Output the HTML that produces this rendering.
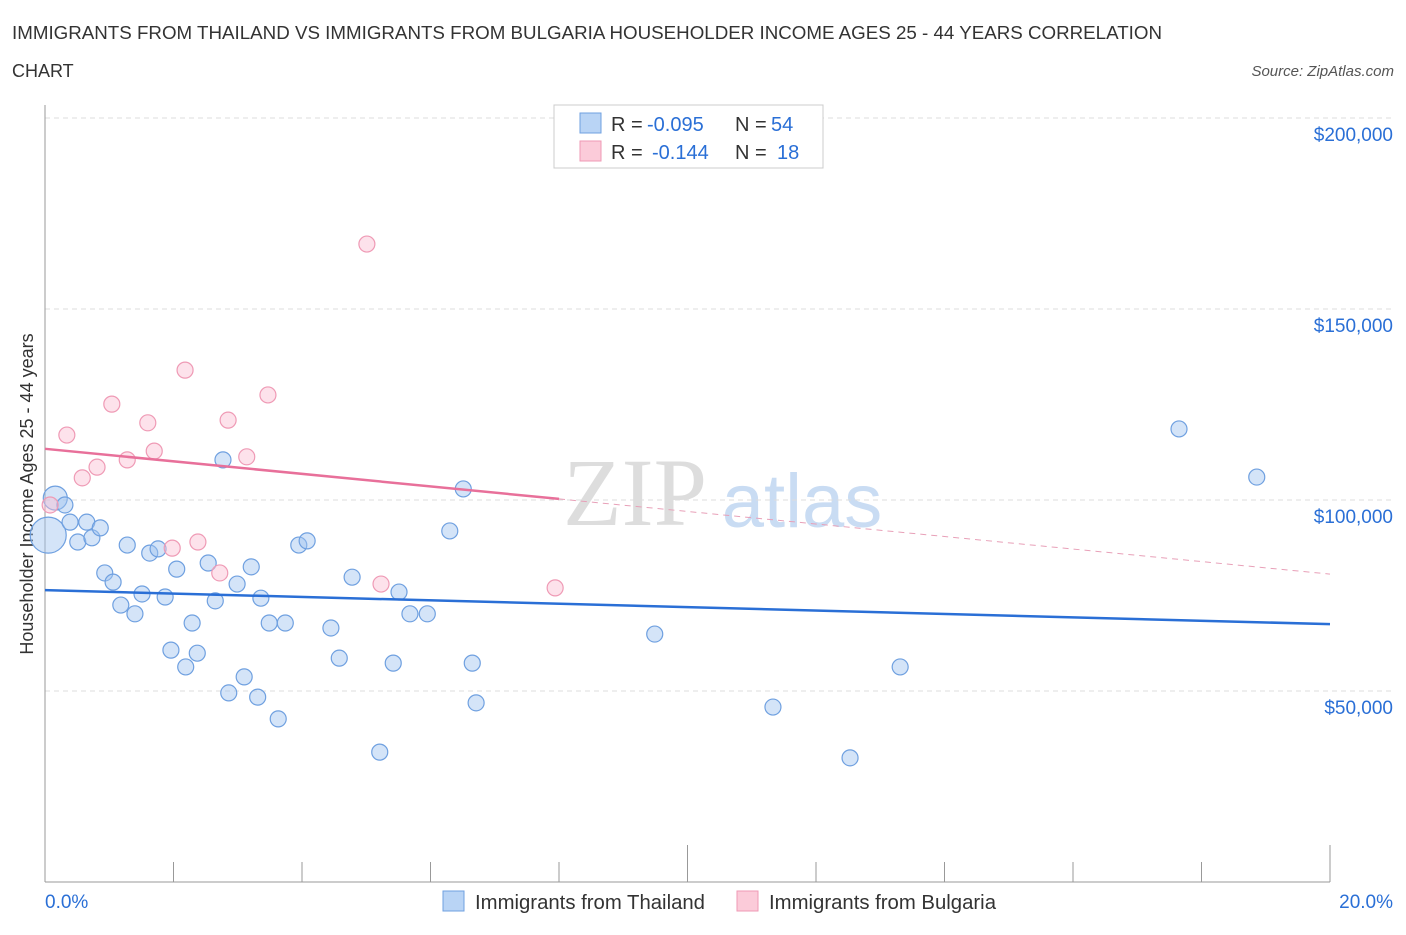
<!DOCTYPE html>
<html><head><meta charset="utf-8"><style>
body{margin:0;background:#fff;font-family:"Liberation Sans",sans-serif;}
</style></head><body>
<svg id="chart" width="1406" height="930" xmlns="http://www.w3.org/2000/svg" font-family="Liberation Sans, sans-serif">
<text x="12" y="39" font-size="18" fill="#333" textLength="1150" lengthAdjust="spacingAndGlyphs">IMMIGRANTS FROM THAILAND VS IMMIGRANTS FROM BULGARIA HOUSEHOLDER INCOME AGES 25 - 44 YEARS CORRELATION</text>
<text x="12" y="77" font-size="18" fill="#333">CHART</text>
<text x="1394" y="76" font-size="15" fill="#555" text-anchor="end" font-style="italic">Source: ZipAtlas.com</text>
<text transform="translate(33,494) rotate(-90)" font-size="18" fill="#333" text-anchor="middle">Householder Income Ages 25 - 44 years</text>
<g>
<text x="635" y="525" font-size="96" fill="#ddd" font-family="Liberation Serif, serif" text-anchor="middle">ZIP</text>
<text x="802" y="527" font-size="76" fill="#c9dcf3" text-anchor="middle">atlas</text>
</g>
<g id="grid"></g><g id="axes"></g><g id="marks"></g>
<g>
<rect x="554" y="105" width="269" height="63" fill="#fff" stroke="#ccc"/>
<rect x="580" y="113" width="21" height="20" fill="#b9d4f5" stroke="#6fa0e0"/>
<rect x="580" y="141" width="21" height="20" fill="#fbcbd9" stroke="#ef9ab5"/>
<text y="131" font-size="20" fill="#333"><tspan x="611">R =</tspan><tspan x="647" fill="#2a6fd6">-0.095</tspan><tspan x="735">N =</tspan><tspan x="771" fill="#2a6fd6">54</tspan></text>
<text y="159" font-size="20" fill="#333"><tspan x="611">R =</tspan><tspan x="652" fill="#2a6fd6">-0.144</tspan><tspan x="735">N =</tspan><tspan x="777" fill="#2a6fd6">18</tspan></text>
</g>
<g>
<rect x="443" y="891" width="21" height="20" fill="#b9d4f5" stroke="#6fa0e0"/>
<text x="475" y="909" font-size="20" fill="#333" textLength="230" lengthAdjust="spacingAndGlyphs">Immigrants from Thailand</text>
<rect x="737" y="891" width="21" height="20" fill="#fbcbd9" stroke="#ef9ab5"/>
<text x="769" y="909" font-size="20" fill="#333" textLength="227" lengthAdjust="spacingAndGlyphs">Immigrants from Bulgaria</text>
</g>
</svg>
<script>
const yTicks=[50000,100000,150000,200000];
const yTickLabels=["$50,000","$100,000","$150,000","$200,000"];
const xTicks=[0,2,4,6,8,10,12,14,16,18,20];
const thaiX=[0.16,0.05,0.31,0.39,0.51,0.65,0.73,0.86,0.93,1.06,1.18,1.28,1.40,1.51,1.63,1.76,1.87,1.96,2.05,2.19,2.29,2.37,2.54,2.65,2.77,2.86,2.99,3.10,3.21,3.31,3.36,3.49,3.63,3.74,3.95,4.08,4.45,4.58,4.78,5.21,5.42,5.51,5.68,5.95,6.30,6.51,6.65,6.71,9.49,11.33,12.53,13.31,17.65,18.86];
const thaiY=[100.5,90.8,98.7,94.2,89.0,94.2,90.1,92.7,80.9,78.5,72.5,88.2,70.2,75.4,86.1,87.2,74.6,60.7,81.9,56.3,67.8,59.9,83.5,73.6,110.5,49.5,78.0,53.7,82.5,48.4,74.3,67.8,42.7,67.8,88.2,89.3,66.5,58.6,79.8,34.0,57.3,75.9,70.2,70.2,91.9,102.9,57.3,46.9,64.9,45.8,32.5,56.3,118.6,106.0];
const thaiR=[12,18,8,8,8,8,8,8,8,8,8,8,8,8,8,8,8,8,8,8,8,8,8,8,8,8,8,8,8,8,8,8,8,8,8,8,8,8,8,8,8,8,8,8,8,8,8,8,8,8,8,8,8,8];
const bulgX=[0.08,0.34,0.58,0.81,1.04,1.28,1.60,1.70,1.98,2.18,2.38,2.72,2.85,3.14,3.47,5.01,5.23,7.94];
const bulgY=[98.7,117.0,105.8,108.6,125.1,110.5,120.2,112.8,87.4,134.0,89.0,80.9,120.9,111.3,127.5,167.0,78.0,77.0];
const thaiTrend=[76.4,67.5];
const bulgTrend=[113.4,80.6];
const NS="http://www.w3.org/2000/svg";
const xS=v=>45+v/20*1285;
const yS=v=>882-v/50000*191;
function mk(p,t,a){const e=document.createElementNS(NS,t);for(const k in a)e.setAttribute(k,a[k]);document.getElementById(p).appendChild(e);return e;}
yTicks.forEach((t,i)=>{
 const g=mk('grid','line',{x1:45,x2:1395,y1:yS(t),y2:yS(t),stroke:'#ddd','stroke-dasharray':'5,4'});
 
 
 const l=mk('axes','text',{x:1393,y:yS(t)+23,'font-size':19,fill:'#2a6fd6','text-anchor':'end'});
 l.textContent=yTickLabels[i];
 
 
});
const ya=mk('axes','line',{x1:45,x2:45,y1:105,y2:882,stroke:'#999'});


const xa=mk('axes','line',{x1:45,x2:1330,y1:882,y2:882,stroke:'#999'});


xTicks.forEach(t=>{
 const k=mk('axes','line',{x1:xS(t),x2:xS(t),y1:t%10===0&&t>0?845:862,y2:882,stroke:'#999'});
 
 
});
const x0=mk('axes','text',{x:45,y:908,'font-size':19,fill:'#2a6fd6'});x0.textContent='0.0%';


const x1=mk('axes','text',{x:1393,y:908,'font-size':19,fill:'#2a6fd6','text-anchor':'end'});x1.textContent='20.0%';


thaiX.forEach((x,i)=>{
 const c=mk('marks','circle',{cx:xS(x),cy:yS(thaiY[i]*1000),r:thaiR[i],fill:'rgba(160,195,240,0.45)',stroke:'#6fa0e0','stroke-width':1.2});
 
 
});
bulgX.forEach((x,i)=>{
 const c=mk('marks','circle',{cx:xS(x),cy:yS(bulgY[i]*1000),r:8,fill:'rgba(250,190,210,0.45)',stroke:'#ef9ab5','stroke-width':1.2});
 
 
});
const bt=mk('marks','line',{x1:xS(0),y1:yS(thaiTrend[0]*1000),x2:xS(20),y2:yS(thaiTrend[1]*1000),stroke:'#2a6fd6','stroke-width':2.5});


const pAt=x=>bulgTrend[0]+(bulgTrend[1]-bulgTrend[0])*x/20;
const ps=mk('marks','line',{x1:xS(0),y1:yS(pAt(0)*1000),x2:xS(8),y2:yS(pAt(8)*1000),stroke:'#e8709a','stroke-width':2.5});


const pd=mk('marks','line',{x1:xS(8),y1:yS(pAt(8)*1000),x2:xS(20),y2:yS(pAt(20)*1000),stroke:'#e8a0b8','stroke-width':1,'stroke-dasharray':'6,5'});


</script>
</body></html>
